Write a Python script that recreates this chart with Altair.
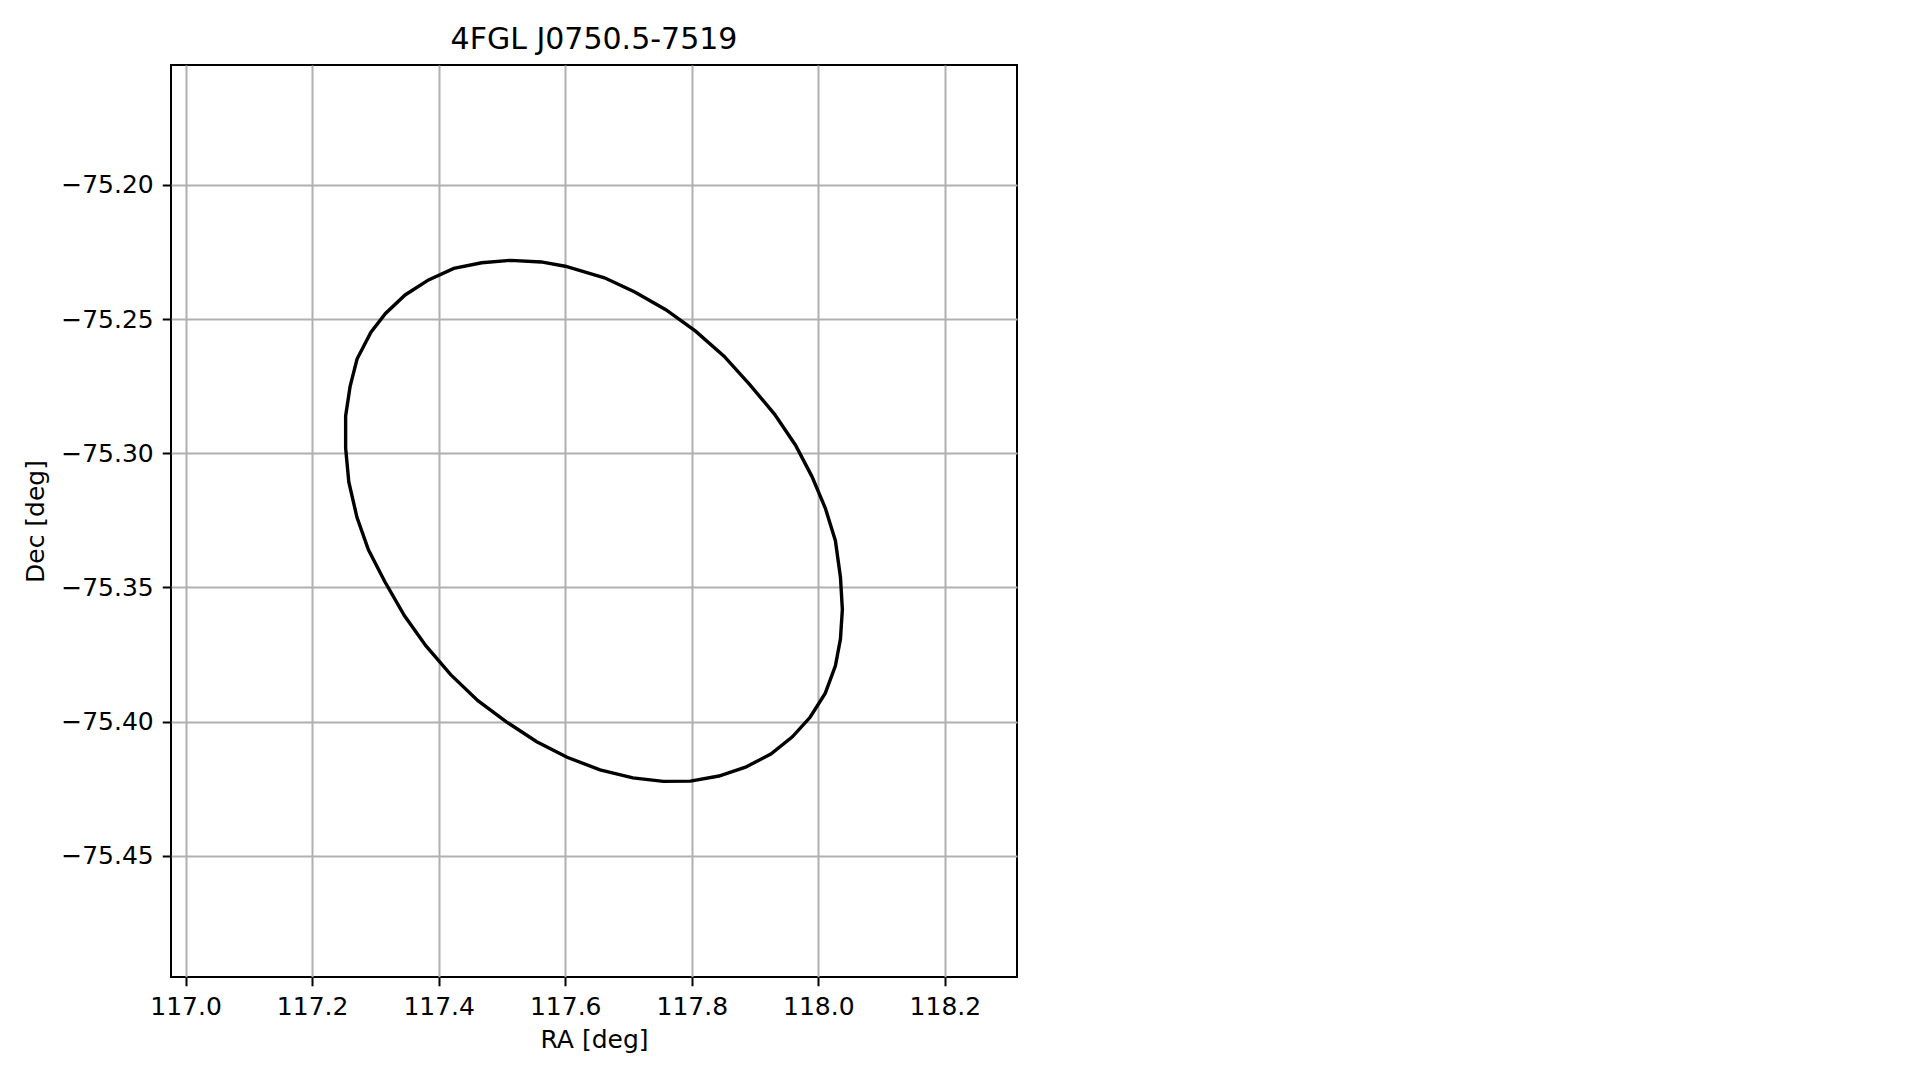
import altair as alt
import pandas as pd

ra = [117.514, 117.562, 117.600, 117.662, 117.710, 117.759, 117.806, 117.851, 117.892, 117.931,
      117.964, 117.990, 118.011, 118.027, 118.035, 118.038, 118.035, 118.027, 118.011, 117.987,
      117.959, 117.925, 117.885, 117.843, 117.798, 117.755, 117.707, 117.655, 117.603, 117.555,
      117.507, 117.462, 117.419, 117.380, 117.346, 117.315, 117.289, 117.271, 117.258, 117.253,
      117.253, 117.260, 117.271, 117.293, 117.316, 117.347, 117.384, 117.424, 117.468, 117.514]
dec = [-75.2281, -75.2287, -75.2303, -75.2346, -75.2399, -75.2465, -75.2545, -75.2638, -75.2745, -75.2855,
       -75.2970, -75.3087, -75.3204, -75.3326, -75.3462, -75.3582, -75.3692, -75.3792, -75.3894, -75.3984,
       -75.4057, -75.4121, -75.4170, -75.4203, -75.4222, -75.4223, -75.4210, -75.4180, -75.4133, -75.4075,
       -75.4001, -75.3922, -75.3825, -75.3718, -75.3606, -75.3479, -75.3360, -75.3240, -75.3107, -75.2981,
       -75.2861, -75.2752, -75.2649, -75.2549, -75.2479, -75.2410, -75.2354, -75.2311, -75.2290, -75.2281]

x_ticks = [117.0, 117.2, 117.4, 117.6, 117.8, 118.0, 118.2]
y_ticks = [-75.45, -75.40, -75.35, -75.30, -75.25, -75.20]
x_domain = [116.977, 118.314]
y_domain = [-75.4952, -75.1553]

df = pd.DataFrame({"ra": ra, "dec": dec, "i": list(range(len(ra)))})

FONT = "DejaVu Sans"

common = dict(tickSize=8.75, tickWidth=2, tickColor="black",
              labelFontSize=25, titleFontSize=25,
              labelFont=FONT, titleFont=FONT, labelColor="black",
              titleColor="black", titleFontWeight="normal",
              gridColor="#b0b0b0", gridWidth=2, domain=False, labelFlush=False)

chart = alt.Chart(df).mark_line(color="black", strokeWidth=3.4, clip=True).encode(
    x=alt.X("ra:Q", scale=alt.Scale(domain=x_domain, nice=False, zero=False),
            axis=alt.Axis(values=x_ticks, format=".1f", title="RA [deg]",
                          labelPadding=9, titlePadding=8, **common)),
    y=alt.Y("dec:Q", scale=alt.Scale(domain=y_domain, nice=False, zero=False),
            axis=alt.Axis(values=y_ticks, format=".2f", title="Dec [deg]",
                          labelPadding=9, titlePadding=12, **common)),
    order="i:Q",
).properties(
    width=846,
    height=912,
    title=alt.TitleParams("4FGL J0750.5-7519", font=FONT, fontSize=30, fontWeight="normal",
                          color="black", offset=10, anchor="middle"),
    autosize=alt.AutoSizeParams(type="none"),
    padding={"left": 163, "top": 57, "right": 10, "bottom": 100},
).configure_view(stroke="black", strokeWidth=2)

chart.save("out.html", embed_options={"renderer": "svg", "actions": False})
